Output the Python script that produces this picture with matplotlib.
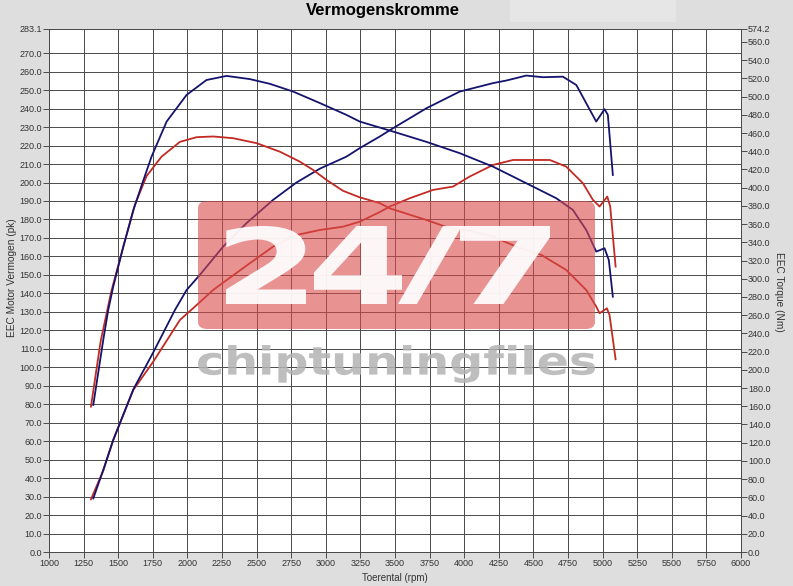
import matplotlib
matplotlib.use("Agg")
import matplotlib.pyplot as plt
from matplotlib.patches import FancyBboxPatch, PathPatch, Rectangle
from matplotlib.textpath import TextPath
from matplotlib.font_manager import FontProperties
from matplotlib.transforms import Affine2D

plt.rcParams['font.family'] = ['Liberation Sans', 'DejaVu Sans']

# vermogen (pk) - blauw = getuned, rood = standaard
rpm_pwr_blue = [1320, 1392, 1464, 1609, 1753, 1910, 1994, 2090, 2258, 2427, 2619, 2788, 2957,
                3149, 3245, 3390, 3486, 3727, 3967, 4208, 4304, 4449, 4569, 4713, 4810, 4882,
                4954, 5014, 5038, 5074]
pwr_blue = [29, 44.4, 60.6, 88, 108, 131, 141.8, 150, 165.3, 178, 190.6, 200, 207.5,
            214, 218.6, 224.9, 229.4, 240.2, 249.2, 253.8, 255.2, 257.9, 257, 257.3, 252.8, 242.9,
            233, 239.7, 236.6, 204.1]

rpm_pwr_red = [1303, 1392, 1464, 1609, 1753, 1946, 2042, 2186, 2234, 2427, 2619, 2788, 2957,
               3125, 3245, 3390, 3462, 3607, 3775, 3919, 4039, 4208, 4352, 4619, 4737, 4858,
               4930, 4978, 5034, 5055, 5094]
pwr_red = [28.5, 44, 60.6, 87.7, 103, 125.6, 132, 141.8, 144.5, 155, 165.3, 171.6, 174.3,
           176.1, 178.8, 184, 187, 191.5, 196, 197.8, 203.2, 209.5, 212.2, 212.2, 208.6, 199.6,
           190.6, 187, 192.4, 187, 154.5]

# koppel (Nm)
rpm_trq_blue = [1320, 1392, 1428, 1464, 1536, 1609, 1681, 1741, 1850, 1994, 2138, 2283, 2451,
                2596, 2764, 2957, 3149, 3245, 3486, 3727, 3967, 4208, 4352, 4497, 4665, 4785,
                4882, 4954, 5014, 5045, 5074]
trq_blue = [161.5, 232.8, 265.7, 291.3, 334.7, 375.2, 407.7, 434.1, 472.6, 501.8, 518.2, 522.7, 519.2,
            514, 505.5, 492.9, 479.9, 472.6, 461.6, 450.3, 437.9, 423.1, 412.2, 401.2, 388.4, 375.6,
            353.5, 329.8, 333.5, 320.5, 280.3]

rpm_trq_red = [1303, 1373, 1450, 1536, 1621, 1705, 1813, 1946, 2066, 2186, 2331, 2499, 2668,
               2812, 2908, 3005, 3125, 3245, 3390, 3462, 3727, 3895, 4039, 4208, 4376, 4557,
               4737, 4882, 4954, 4978, 5031, 5050, 5094]
trq_red = [159.6, 231.2, 286, 334.7, 381.3, 412.8, 434, 450.3, 455.4, 456.2, 454.3, 448.9, 439.5,
           428.6, 419.5, 408.5, 396.5, 389.4, 383, 377.3, 364.5, 355.6, 352.9, 346.2, 335.3, 326.2,
           309.7, 287.6, 269.4, 262.1, 267.5, 260.2, 211.6]

x_ticks = list(range(1000, 6001, 250))
left_ticks = list(range(0, 280, 10)) + [283.1]
right_ticks = list(range(0, 561, 20)) + [574.2]

W, H = 793, 586
fig = plt.figure(figsize=(W / 100, H / 100), dpi=100, facecolor='#dedede')
fig.add_artist(Rectangle((510 / W, 1 - 22 / H), 166 / W, 22 / H, transform=fig.transFigure,
                         facecolor='#e6e6e6', edgecolor='none', zorder=0))

ax = fig.add_axes([49 / W, 34 / H, 692 / W, 523 / H])
ax.set_facecolor('white')
ax.set_xlim(1000, 6000)
ax.set_ylim(0, 283.1)
ax.set_xticks(x_ticks)
ax.set_xticklabels([str(t) for t in x_ticks])
ax.set_yticks(left_ticks)
ax.set_yticklabels(['%.1f' % t for t in left_ticks])
ax.grid(True, color='#4a4a4a', lw=0.7)
ax.set_axisbelow(True)
ax.tick_params(labelsize=6.5, colors='#4a4a4a', labelcolor='#333333', length=4, width=0.7, pad=1)
for s in ax.spines.values():
    s.set_color('#4a4a4a')
    s.set_linewidth(0.7)

ax.plot(rpm_pwr_red, pwr_red, color='#c22a22', lw=1.3)
ax.plot(rpm_pwr_blue, pwr_blue, color='#14146e', lw=1.3)

ax2 = ax.twinx()
ax2.set_ylim(0, 574.2)
ax2.set_yticks(right_ticks)
ax2.set_yticklabels(['%.1f' % t for t in right_ticks])
ax2.tick_params(labelsize=6.5, colors='#4a4a4a', labelcolor='#333333', length=4, width=0.7, pad=1)
for s in ax2.spines.values():
    s.set_color('#4a4a4a')
    s.set_linewidth(0.7)
ax2.plot(rpm_trq_red, trq_red, color='#c22a22', lw=1.3)
ax2.plot(rpm_trq_blue, trq_blue, color='#14146e', lw=1.3)

fig.text(383 / W, 1 - 10 / H, 'Vermogenskromme', ha='center', va='center',
         fontsize=12, fontweight='bold', color='black')
fig.text(395 / W, 1 - 578 / H, 'Toerental (rpm)', ha='center', va='center', fontsize=7, color='#333333')
fig.text(12 / W, 1 - 278 / H, 'EEC Motor Vermogen (pk)', ha='center', va='center',
         rotation=90, fontsize=7.3, color='#333333')
fig.text(779 / W, 1 - 292 / H, 'EEC Torque (Nm)', ha='center', va='center',
         rotation=270, fontsize=7.3, color='#333333')

# watermerk
fig.add_artist(FancyBboxPatch((198 / W, 1 - 329 / H), 397 / W, 128 / H,
                              boxstyle='round,pad=0,rounding_size=0.012',
                              transform=fig.transFigure, facecolor='#d94a4a', alpha=0.6,
                              edgecolor='none', zorder=5))


def fit_text(s, x0, y0, x1, y1, color, alpha):
    tp = TextPath((0, 0), s, size=1, prop=FontProperties(family='DejaVu Sans', weight='bold'))
    ext = tp.get_extents()
    tr = (Affine2D().translate(-ext.x0, -ext.y0)
          .scale((x1 - x0) / ext.width, (y1 - y0) / ext.height)
          .translate(x0, H - y1)
          .scale(1 / W, 1 / H) + fig.transFigure)
    fig.add_artist(PathPatch(tp, transform=tr, facecolor=color, edgecolor='none',
                             alpha=alpha, zorder=6))


fit_text('2', 226, 226, 306, 304, 'white', 0.92)
fit_text('4', 314, 226, 402, 304, 'white', 0.92)
fit_text('/', 398, 226, 462, 304, 'white', 0.92)
fit_text('7', 460, 226, 550, 304, 'white', 0.92)
fit_text('chiptuningfiles', 198, 345, 595, 383, '#b3b3b3', 0.85)

fig.savefig('out.png', dpi=100, facecolor=fig.get_facecolor())
